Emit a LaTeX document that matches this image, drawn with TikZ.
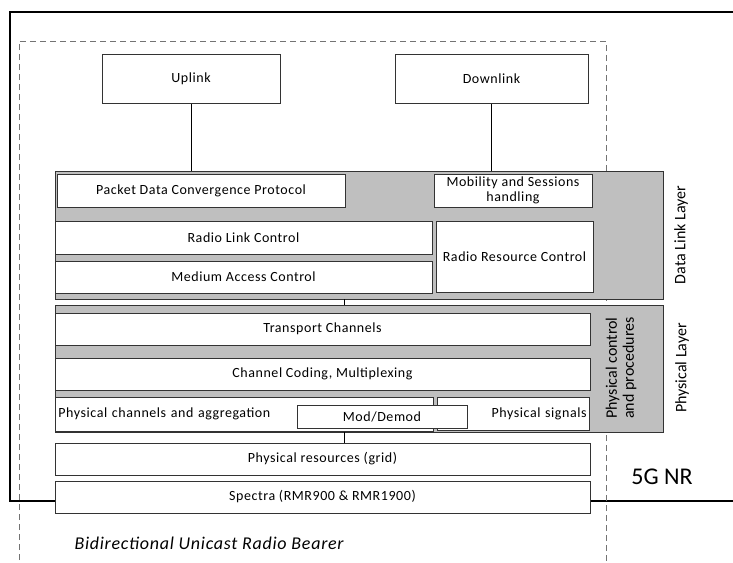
\documentclass[tikz,border=0pt]{standalone}
\usepackage{fontspec}
\setmainfont{Carlito}
\newfontfamily\boxfont[LetterSpace=4]{Carlito}
\begin{document}
\begin{tikzpicture}[x=1pt,y=-1pt,
  box/.style={draw=black!80,line width=0.9pt,fill=white,inner sep=0pt,font=\boxfont\fontsize{14}{15}\selectfont},
  layer/.style={draw=black!80,line width=0.9pt,fill=black!25,inner sep=0pt},
  conn/.style={draw=black,line width=0.8pt},
  vlabel/.style={rotate=90,font=\fontsize{16}{17}\selectfont,align=center}]
\useasboundingbox (0,0) rectangle (733,562);
% outer frame
\draw[line width=2pt] (740,12) -- (10,12) -- (10,501) -- (740,501);
% dashed bearer boundary
\draw[dashed,dash pattern=on 6pt off 4pt,draw=black!55,line width=0.7pt] (19,570) -- (19,41) -- (606,41) -- (606,570);
% top boxes
\node[box,minimum width=178,minimum height=49] (up) at (191,79) {Uplink};
\node[box,minimum width=193,minimum height=49] (down) at (491.5,79) {Downlink};
% layer boxes
\node[layer,minimum width=608,minimum height=128] (dll) at (359,235) {};
\node[layer,minimum width=608,minimum height=127] (pl) at (359,368.5) {};
\draw[conn] (up.south) -- (up.south |- dll.north);
\draw[conn] (down.south) -- (down.south |- dll.north);
\draw[conn] (344,299) -- (344,305);
% data link layer contents
\node[box,minimum width=288,minimum height=33] (pdcp) at (201,190.5) {Packet Data Convergence Protocol};
\node[box,minimum width=158,minimum height=33,align=center,font=\boxfont\fontsize{14}{15}\selectfont] (mob) at (513,190.5) {Mobility and Sessions\\handling};
\node[box,minimum width=377,minimum height=33] (rlc) at (243.5,237.5) {Radio Link Control};
\node[box,minimum width=377,minimum height=32] (mac) at (243.5,277) {Medium Access Control};
\node[box,minimum width=157,minimum height=71] (rrc) at (514.5,256.5) {Radio Resource Control};
\node[vlabel] (dlll) at (681,235) {Data Link Layer};
% physical layer contents
\node[box,minimum width=535,minimum height=32] (tc) at (322.5,329) {Transport Channels};
\node[box,minimum width=535,minimum height=32] (cc) at (322.5,374) {Channel Coding, Multiplexing};
\node[box,minimum width=378,minimum height=34,anchor=west,text width=372,align=left,inner xsep=3pt] (pca) at (55,414) {Physical channels and aggregation};
\node[box,minimum width=152,minimum height=33,anchor=east,text width=146,align=right,inner xsep=3pt] (ps) at (590,413.5) {Physical signals};
\node[box,minimum width=170,minimum height=23] (mod) at (382,416.5) {Mod/Demod};
\node[vlabel,font=\fontsize{16}{17}\selectfont] (pcp) at (621,368) {Physical control\\and procedures};
\node[vlabel] (pll) at (682,368) {Physical Layer};
% bottom
\node[box,minimum width=535,minimum height=32] (res) at (322.5,459) {Physical resources (grid)};
\node[box,minimum width=535,minimum height=32] (spec) at (322.5,497) {Spectra (RMR900 \& RMR1900)};
\draw[conn] (344,432) -- (res.north -| 344,0);
\node[font=\fontsize{24}{26}\selectfont] (nr) at (662,477) {5G NR};
\node[font=\boxfont\fontsize{18}{20}\selectfont\itshape,anchor=west] (brb) at (71,543) {Bidirectional Unicast Radio Bearer};
\end{tikzpicture}
\end{document}
